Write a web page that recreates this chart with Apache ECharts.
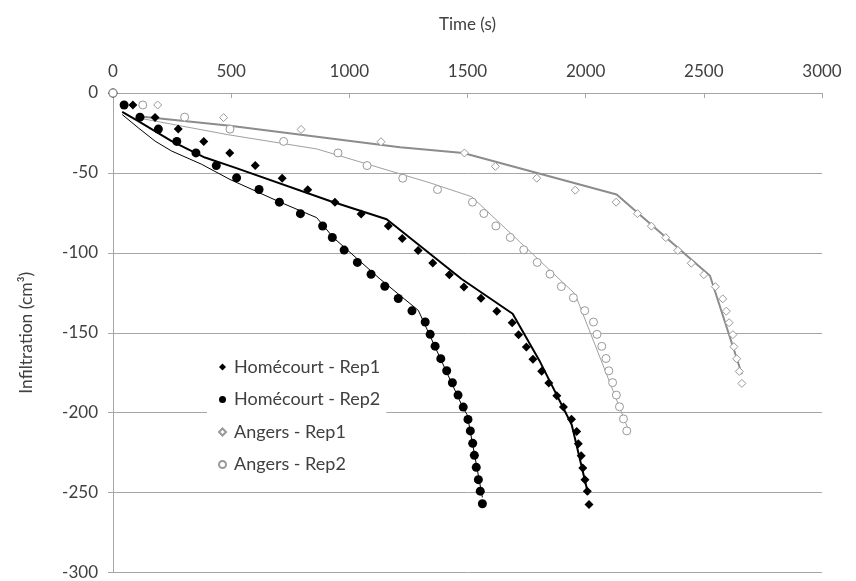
<!DOCTYPE html>
<html>
<head>
<meta charset="utf-8">
<script src="https://cdn.jsdelivr.net/npm/echarts@6/dist/echarts.min.js"></script>
<style>
  html, body { margin: 0; padding: 0; background: #fff; }
  #chart { width: 856px; height: 581px; }
</style>
</head>
<body>
<div id="chart"></div>
<script>
// 观测点 (time s, infiltration cm3)
const homRep1T = [0, 84, 178, 276, 384, 494, 602, 716, 824, 939, 1050, 1165, 1224, 1291, 1353, 1423, 1485, 1557, 1624, 1689, 1716, 1749, 1777, 1814, 1844, 1878, 1906, 1940, 1962, 1969, 1981, 1988, 1997, 2007, 2014];
const homRep1V = [0, -7.5, -15.4, -22.6, -30.3, -37.5, -45.4, -53.3, -60.5, -68.3, -75.7, -83.2, -91.0, -98.5, -106.4, -113.7, -121.3, -128.4, -136.5, -143.7, -151.2, -158.9, -166.6, -174.1, -181.5, -189.4, -196.4, -204.1, -211.8, -219.5, -226.9, -234.6, -242.0, -249.1, -257.4];

const homRep2T = [0, 47, 114, 192, 270, 351, 437, 523, 618, 704, 793, 887, 928, 978, 1034, 1092, 1150, 1207, 1265, 1321, 1342, 1363, 1387, 1412, 1436, 1460, 1482, 1502, 1512, 1522, 1529, 1537, 1546, 1554, 1563];
const homRep2V = [0, -7.5, -15.1, -22.6, -30.3, -37.5, -45.4, -53.1, -60.4, -68.3, -75.5, -83.2, -90.4, -98.3, -106.0, -113.4, -120.9, -128.6, -136.3, -143.3, -151.0, -158.4, -166.2, -173.8, -181.3, -189.0, -196.5, -204.2, -211.4, -219.2, -226.7, -234.2, -241.9, -249.1, -257.0];

const angRep1T = [0, 189, 468, 796, 1134, 1487, 1618, 1793, 1956, 2129, 2219, 2278, 2339, 2390, 2447, 2500, 2549, 2580, 2595, 2607, 2623, 2627, 2639, 2650, 2661];
const angRep1V = [0, -7.5, -15.4, -22.8, -30.5, -37.5, -45.9, -53.3, -60.8, -68.3, -75.5, -83.3, -90.5, -98.5, -106.5, -113.7, -121.2, -128.8, -136.5, -143.7, -151.2, -158.7, -166.3, -174.2, -181.7];

const angRep2T = [0, 126, 303, 495, 722, 952, 1075, 1226, 1373, 1521, 1569, 1620, 1681, 1738, 1795, 1849, 1897, 1948, 1996, 2033, 2048, 2068, 2086, 2098, 2114, 2130, 2143, 2160, 2174];
const angRep2V = [0, -7.5, -15.1, -22.6, -30.3, -37.5, -45.4, -53.3, -60.4, -68.3, -75.4, -83.2, -90.4, -98.1, -106.0, -113.3, -121.1, -128.1, -136.2, -143.3, -151.0, -158.5, -166.1, -173.8, -181.2, -189.0, -196.3, -203.9, -211.4];

// 模拟曲线
const homFit1T = [39, 107, 248, 389, 516, 918, 1158, 1475, 1691, 1807, 1941, 2011];
const homFit1V = [-11.8, -17.6, -30.1, -40.4, -46.7, -67.6, -79, -116.4, -138.1, -168.2, -207.6, -251.2];
const homFit2T = [39, 107, 178, 248, 375, 495, 707, 862, 932, 1130, 1292, 1482, 1499, 1563];
const homFit2V = [-13.5, -21.8, -30.1, -36.3, -44.6, -54.1, -68.3, -78, -90.4, -116.4, -136, -197.3, -201.4, -253];
const angFit1T = [107, 495, 1214, 1482, 2131, 2526, 2661];
const angFit1V = [-14.5, -20.5, -34, -37.5, -63.5, -114.3, -176];
const angFit2T = [107, 487, 862, 1341, 1518, 1955, 2181];
const angFit2V = [-15.6, -26.1, -35, -56.2, -64.9, -125.7, -210.8];

const seriesNames = ['Homécourt - Rep1', 'Homécourt - Rep2', 'Angers - Rep1', 'Angers - Rep2'];

const FONT = 'Lato';
const TXT = '#404040';
const GRID = '#a6a6a6';

function pairs (t, v) {
  return t.map((x, i) => [x, v[i]])
}

function scatter (name, t, v, symbol, filled) {
  return {
    name: name,
    type: 'scatter',
    data: pairs(t, v),
    symbol: symbol,
    symbolSize: filled ? 9 : 8,
    z: 3,
    itemStyle: filled
      ? { color: '#000', opacity: 1 }
      : { color: '#fff', borderColor: '#999', borderWidth: 1, opacity: 1 }
  }
}

function fitLine (t, v, color, width) {
  return {
    type: 'line',
    data: pairs(t, v),
    showSymbol: false,
    symbol: 'none',
    silent: true,
    z: 2,
    lineStyle: { color: color, width: width }
  }
}

let chart = echarts.init(document.getElementById('chart'));
let option = {
  animation: false,
  backgroundColor: '#fff',
  textStyle: { fontFamily: FONT },
  grid: { left: 113, right: 34, top: 93, bottom: 6 },
  legend: {
    orient: 'vertical',
    left: 207,
    top: 353,
    padding: [4, 6, 4, 11],
    backgroundColor: '#fff',
    itemWidth: 7,
    itemHeight: 7,
    itemGap: 12.5,
    data: seriesNames,
    textStyle: { fontFamily: FONT, fontSize: 18, color: TXT, lineHeight: 20, padding: [0, 0, 0, 3] }
  },
  xAxis: {
    type: 'value',
    position: 'top',
    min: 0,
    max: 3000,
    interval: 500,
    name: 'Time (s)',
    nameLocation: 'middle',
    nameGap: 60,
    nameTextStyle: { fontFamily: FONT, fontSize: 17, color: TXT },
    axisLine: { show: true, lineStyle: { color: GRID, width: 1 } },
    axisTick: { show: true, inside: true, length: 5, lineStyle: { color: GRID } },
    axisLabel: { fontFamily: FONT, fontSize: 17, color: TXT, margin: 13, formatter: v => String(v) },
    splitLine: { show: false }
  },
  yAxis: {
    type: 'value',
    min: -300,
    max: 0,
    interval: 50,
    name: 'Infiltration (cm³)',
    nameLocation: 'middle',
    nameGap: 78,
    nameRotate: 90,
    nameTextStyle: { fontFamily: FONT, fontSize: 17.5, color: TXT },
    axisLine: { show: true, onZero: false, lineStyle: { color: GRID, width: 1 } },
    axisTick: { show: true, length: 5, lineStyle: { color: GRID } },
    axisLabel: { fontFamily: FONT, fontSize: 17, color: TXT, margin: 15, formatter: v => String(v) },
    splitLine: { show: true, lineStyle: { color: GRID, width: 1 } }
  },
  series: [
    fitLine(homFit1T, homFit1V, '#000', 2),
    fitLine(homFit2T, homFit2V, '#000', 1),
    fitLine(angFit1T, angFit1V, '#8c8c8c', 2),
    fitLine(angFit2T, angFit2V, '#a0a0a0', 1),
    scatter(seriesNames[0], homRep1T, homRep1V, 'diamond', true),
    scatter(seriesNames[1], homRep2T, homRep2V, 'circle', true),
    scatter(seriesNames[2], angRep1T, angRep1V, 'diamond', false),
    scatter(seriesNames[3], angRep2T, angRep2V, 'circle', false)
  ]
};
chart.setOption(option, true);
</script>
</body>
</html>
